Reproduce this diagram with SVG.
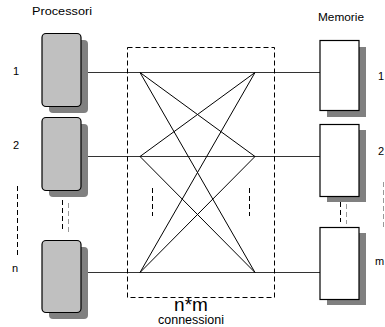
<svg xmlns="http://www.w3.org/2000/svg" width="385" height="327" viewBox="0 0 385 327">
  <defs>
    <style>
      text { font-family: "Liberation Sans", Arial, sans-serif; fill: #000; }
      .lbl { font-size: 11px; }
      .shadow { fill: #808080; stroke: none; }
      .proc { fill: #c0c0c0; stroke: #000; stroke-width: 1.2; }
      .mem { fill: #fff; stroke: #000; stroke-width: 1.2; }
      .bus { stroke: #333; stroke-width: 1; fill: none; }
      .cross { stroke: #000; stroke-width: 1; fill: none; }
      .dash { stroke: #000; stroke-width: 1; stroke-dasharray: 5 3; fill: none; }
      .dashgray { stroke: #999; stroke-width: 1; stroke-dasharray: 5 3; fill: none; }
    </style>
  </defs>

  <rect width="385" height="327" fill="#fff"/>

  <!-- headings -->
  <text class="lbl" x="32" y="15" textLength="60" lengthAdjust="spacingAndGlyphs">Processori</text>
  <text class="lbl" x="318" y="21" textLength="46" lengthAdjust="spacingAndGlyphs">Memorie</text>

  <!-- processor indices -->
  <text class="lbl" x="13" y="75">1</text>
  <text class="lbl" x="13" y="149">2</text>
  <text class="lbl" x="12" y="272">n</text>
  <line class="dash" x1="17.5" y1="186" x2="17.5" y2="255"/>

  <!-- memory indices -->
  <text class="lbl" x="378" y="80">1</text>
  <text class="lbl" x="378" y="155">2</text>
  <text class="lbl" x="375" y="265">m</text>
  <line class="dashgray" x1="383.5" y1="182" x2="383.5" y2="227"/>

  <!-- connectors: buses and crossbar -->
  <g id="connectors">
    <line class="bus" x1="81" y1="72.5" x2="320" y2="72.5"/>
    <line class="bus" x1="81" y1="156.5" x2="320" y2="156.5"/>
    <line class="bus" x1="81" y1="272.5" x2="320" y2="272.5"/>

    <line class="cross" x1="140" y1="72.5" x2="255" y2="156.5"/>
    <line class="cross" x1="140" y1="72.5" x2="255" y2="272.5"/>
    <line class="cross" x1="255" y1="72.5" x2="140" y2="156.5"/>
    <line class="cross" x1="255" y1="72.5" x2="140" y2="272.5"/>
    <line class="cross" x1="140" y1="156.5" x2="255" y2="272.5"/>
    <line class="cross" x1="255" y1="156.5" x2="140" y2="272.5"/>

    <line class="dash" x1="152.5" y1="188" x2="152.5" y2="216"/>
    <line class="dash" x1="249.5" y1="188" x2="249.5" y2="216"/>
  </g>

  <!-- switching network boundary -->
  <g id="network">
    <rect x="127.5" y="47.5" width="147" height="250" fill="none" stroke="#000" stroke-width="1" stroke-dasharray="5 3"/>
    <text x="191" y="311" font-size="19" text-anchor="middle">n*m</text>
    <text x="191" y="324" font-size="12" text-anchor="middle" textLength="66" lengthAdjust="spacingAndGlyphs">connessioni</text>
  </g>

  <!-- processors -->
  <g id="proc1">
    <rect class="shadow" x="49" y="40" width="39" height="73" rx="4"/>
    <rect class="proc" x="42" y="33.5" width="39" height="73" rx="4"/>
  </g>
  <g id="proc2">
    <rect class="shadow" x="49" y="124" width="39" height="73" rx="4"/>
    <rect class="proc" x="42" y="117.5" width="39" height="73" rx="4"/>
  </g>
  <g id="proc-gap">
    <line class="dash" x1="62.5" y1="200" x2="62.5" y2="230"/>
    <line class="dashgray" x1="68.5" y1="203" x2="68.5" y2="233"/>
  </g>
  <g id="procN">
    <rect class="shadow" x="49" y="247" width="39" height="72" rx="4"/>
    <rect class="proc" x="42" y="240.5" width="39" height="72" rx="4"/>
  </g>

  <!-- memories -->
  <g id="mem1">
    <rect class="shadow" x="327" y="47" width="39" height="70"/>
    <rect class="mem" x="320" y="40.5" width="39" height="70"/>
  </g>
  <g id="mem2">
    <rect class="shadow" x="327" y="130" width="39" height="72"/>
    <rect class="mem" x="320" y="124.5" width="39" height="72"/>
  </g>
  <g id="mem-gap">
    <line class="dash" x1="340.5" y1="202" x2="340.5" y2="222"/>
    <line class="dashgray" x1="346.5" y1="204" x2="346.5" y2="224"/>
  </g>
  <g id="memM">
    <rect class="shadow" x="327" y="233" width="39" height="72"/>
    <rect class="mem" x="320" y="227.5" width="39" height="72"/>
  </g>
</svg>
